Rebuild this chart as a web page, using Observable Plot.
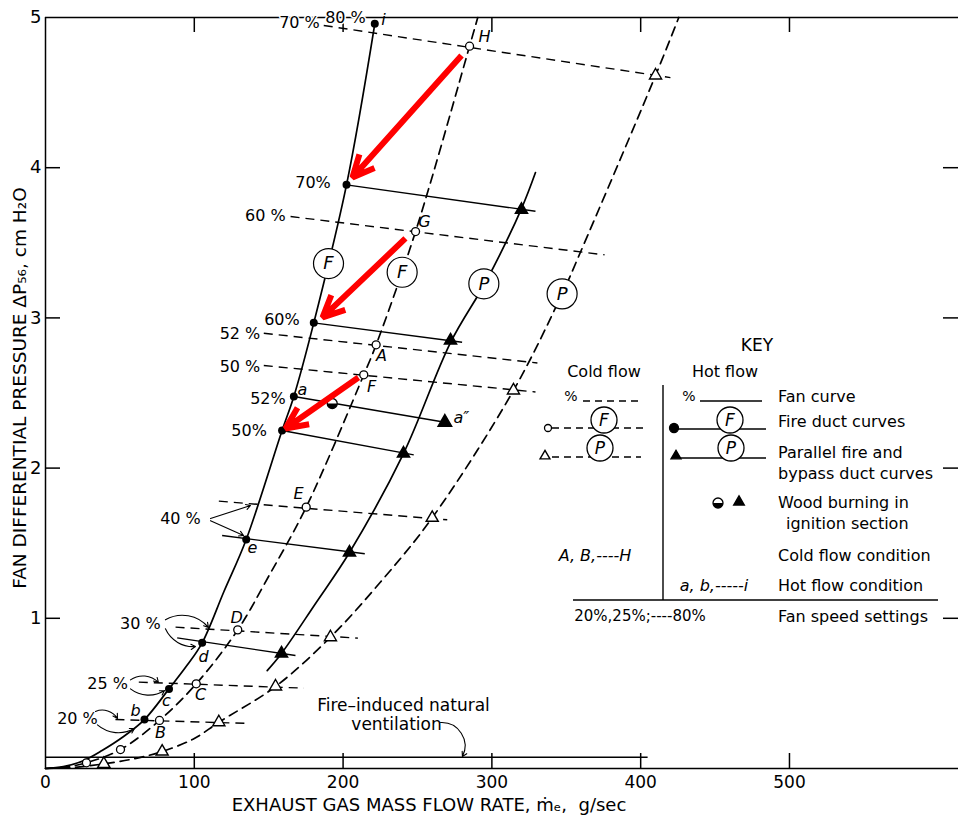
<!DOCTYPE html>
<html><head><meta charset="utf-8">
<script src="https://cdn.jsdelivr.net/npm/d3@7"></script>
<script src="https://cdn.jsdelivr.net/npm/@observablehq/plot@0.6"></script>
<style>
body{margin:0;background:#fff}
#chart{position:relative;width:958px;height:824px;overflow:hidden}
</style>
</head><body><div id="chart"></div>
<script>
// ---------------- DATA (x: exhaust gas mass flow, g/sec; y: fan differential pressure, cm H2O) ----------------
const xTicks = [0, 100, 200, 300, 400, 500];
const yTicks = [1, 2, 3, 4, 5];

// Fire duct curves
const hotFireDuctCurve = [[0,0],[12,0.012],[25,0.05],[38,0.12],[52,0.21],[66.5,0.326],[83,0.53],[95,0.685],[105.3,0.837],[120,1.18],[134.9,1.525],[159,2.25],[166.9,2.477],[180.3,2.967],[202.3,3.886],[221.3,4.958]];
const coldFireDuctCurve = [[0,0],[15,0.012],[27.5,0.038],[50.4,0.126],[76.6,0.32],[101.3,0.564],[129.2,0.923],[150,1.28],[175.2,1.74],[213.9,2.621],[222.2,2.821],[248.7,3.575],[285,4.809],[290.5,5]];
// Parallel fire and bypass duct curves
const hotParallelCurve = [[149,0.652],[158.6,0.766],[181.5,1.099],[204.3,1.438],[240.6,2.097],[272.2,2.836],[296.4,3.249],[319.9,3.728],[329.3,3.968]];
const coldParallelCurve = [[0,0],[20,0.008],[39.2,0.031],[60,0.066],[78.4,0.113],[100,0.2],[116.5,0.308],[154.6,0.546],[191.5,0.874],[225,1.24],[259.9,1.669],[314.5,2.517],[347.2,3.16],[359.5,3.437],[410,4.614],[425.6,5]];

// Measured points
const hotFirePoints = [[66.5,0.326],[83,0.53],[105.3,0.837],[134.9,1.525],[159,2.25],[166.9,2.477],[180.3,2.967],[202.3,3.886],[221.3,4.958]];
const coldFirePoints = [[27.5,0.038],[50.4,0.126],[76.6,0.32],[101.3,0.564],[129.2,0.923],[175.2,1.74],[213.9,2.621],[222.2,2.821],[248.7,3.575],[285,4.809]];
const hotParallelPoints = [[158.6,0.766],[204.3,1.438],[240.6,2.097],[272.2,2.85],[319.9,3.72]];
const coldParallelPoints = [[39.2,0.031],[78.4,0.113],[116.5,0.308],[154.6,0.546],[191.5,0.874],[259.9,1.669],[314.5,2.517],[410,4.614]];
const woodBurningCircle = [[192.7,2.43]];
const woodBurningTriangle = [[268.4,2.305]];

// Fan curves (speed setting, start, end)
const hotFanSpeeds = ["30%","40%","50%","52%","60%","70%"];
const hotFanStart = [[88.5,0.87],[118.7,1.551],[159,2.25],[166.9,2.477],[180.3,2.967],[202.3,3.886]];
const hotFanEnd = [[168,0.752],[214.6,1.43],[247.5,2.088],[268.4,2.305],[280,2.838],[329.3,3.71]];
const coldFanSpeeds = ["20%","25%","30%","40%","50%","52%","60%","70%"];
const coldFanStart = [[47,0.326],[62.7,0.575],[87.4,0.941],[116.5,1.78],[146.7,2.683],[146.7,2.898],[164.7,3.675],[187,4.947]];
const coldFanEnd = [[136.6,0.30],[173.6,0.535],[210,0.868],[270,1.656],[329.3,2.507],[330.6,2.70],[375.7,3.42],[420,4.6]];

// Fire-induced natural ventilation
const naturalVentilation = {y: 0.075, x1: 0, x2: 405};

// Circled curve identifiers
const curveTags = ["F","F","P","P"];
const curveTagPos = [[190.2,3.362],[239.7,3.304],[294.6,3.227],[347.2,3.16]];

// Text labels
const pctLabels = ["70 %","80 %","70%","60 %","60%","52 %","50 %","52%","50%","40 %","30 %","25 %","20 %"];
const pctLabelPos = [[170.7,4.967],[201.6,5.0],[179.8,3.90],[147.8,3.68],[158.9,2.99],[130.7,2.896],[130.7,2.676],[149.5,2.463],[136.8,2.25],[90.7,1.664],[63.8,0.965],[41.7,0.566],[21.5,0.333]];
const pointLetters = ["i","H","G","A","F","a","a″","E","e","D","d","C","c","b","B"];
const pointLetterPos = [[227.2,4.985],[295,4.87],[254.7,3.64],[225.8,2.75],[219.1,2.543],[172.7,2.52],[279.5,2.335],[170,1.83],[139.1,1.47],[128.4,1.005],[106.2,0.745],[104.2,0.49],[81.3,0.45],[60.5,0.385],[77.3,0.24]];
const ventLabels = ["Fire–induced natural","ventilation"];
const ventLabelPos = [[240.6,0.419],[235.9,0.293]];

// Thin annotation arrows [x1,y1,x2,y2]
const straightNoteArrows = [[110.9,1.664,137.8,1.751],[110.9,1.65,133.1,1.551]];
const upperNoteArrows = [[80.6,0.99,109.5,0.939],[57.1,0.59,75.9,0.573],[33.6,0.38,48.4,0.333]];
const lowerNoteArrows = [[80.6,0.93,100.8,0.812],[57.1,0.53,80,0.519],[34.9,0.29,59.8,0.266]];
const ventArrow = [[265.5,0.306,280.2,0.08]];
// Red highlight arrows [x1,y1,x2,y2]
const redArrows = [[279.6,4.747,206.3,3.935],[241.9,3.529,186.2,3.003],[210.3,2.603,161.3,2.264]];

// ---------------- CHART ----------------
const P = (a) => a.map(([x,y]) => ({x,y}));
const zipFan = (speeds, s, e) => speeds.map((sp,i) => ({speed: sp, x1: s[i][0], y1: s[i][1], x2: e[i][0], y2: e[i][1]}));
const zipLab = (t, p) => t.map((s,i) => ({text: s, x: p[i][0], y: p[i][1]}));
const arrowOpts = {x1: d => d[0], y1: d => d[1], x2: d => d[2], y2: d => d[3], stroke: "black", strokeWidth: 1.1, headLength: 7};

const halfDisk = {draw(ctx, size){ const r = Math.sqrt(size/Math.PI); ctx.moveTo(r,0); ctx.arc(0,0,r,0,Math.PI); ctx.closePath(); }};

const W = 958, H = 824, mL = 45, mR = 0, mT = 17, mB = 56;
const xMax = 613.6, yMax = 5;
const tickLenX = 15 * xMax / (W - mL - mR);   // 15 px expressed in x units
const tickLenY = 15 * yMax / (H - mT - mB);   // 15 px expressed in y units
const dash = "9,6";
const plot = Plot.plot({
  width: W, height: H,
  marginLeft: mL, marginRight: mR, marginTop: mT, marginBottom: mB,
  x: {domain: [0, xMax]},
  y: {domain: [0, yMax]},
  style: {fontFamily: "DejaVu Sans", fontSize: "16px", background: "white", color: "black", overflow: "visible"},
  marks: [
    Plot.ruleX([0], {stroke: "black", strokeWidth: 1.5}),
    Plot.ruleY([0, yMax], {stroke: "black", strokeWidth: 1.5}),
    // inward ticks
    Plot.ruleX(xTicks.slice(1), {x: d => d, y1: 0, y2: tickLenY, stroke: "black", strokeWidth: 1.5}),
    Plot.ruleX(xTicks.slice(1), {x: d => d, y1: yMax - tickLenY, y2: yMax, stroke: "black", strokeWidth: 1.5}),
    Plot.ruleY(yTicks.slice(0,4), {y: d => d, x1: 0, x2: tickLenX, stroke: "black", strokeWidth: 1.5}),
    Plot.ruleY(yTicks.slice(0,4), {y: d => d, x1: xMax - tickLenX, x2: xMax, stroke: "black", strokeWidth: 1.5}),
    Plot.axisX(xTicks, {anchor: "bottom", tickSize: 0, tickPadding: 7, label: null, fontSize: 17, tickFormat: "d"}),
    Plot.axisY(yTicks, {anchor: "left", tickSize: 0, tickPadding: 4, label: null, fontSize: 18, tickFormat: "d"}),
    Plot.text(["FAN DIFFERENTIAL PRESSURE ΔP₅₆, cm H₂O"], {frameAnchor: "left", textAnchor: "middle", rotate: -90, dx: -25, dy: -5, fontSize: 18.5}),
    Plot.text(["EXHAUST GAS MASS FLOW RATE, ṁₑ,  g/sec"], {frameAnchor: "bottom", textAnchor: "middle", dy: 42, dx: -73, fontSize: 18}),

    // fan curves
    Plot.link(zipFan(coldFanSpeeds, coldFanStart, coldFanEnd), {x1: "x1", y1: "y1", x2: "x2", y2: "y2", stroke: "black", strokeWidth: 1.4, strokeDasharray: dash}),
    Plot.link(zipFan(hotFanSpeeds, hotFanStart, hotFanEnd), {x1: "x1", y1: "y1", x2: "x2", y2: "y2", stroke: "black", strokeWidth: 1.4}),
    // duct curves
    Plot.line(P(coldFireDuctCurve), {x: "x", y: "y", curve: "catmull-rom", stroke: "black", strokeWidth: 1.7, strokeDasharray: dash}),
    Plot.line(P(coldParallelCurve), {x: "x", y: "y", curve: "catmull-rom", stroke: "black", strokeWidth: 1.7, strokeDasharray: dash}),
    Plot.line(P(hotFireDuctCurve), {x: "x", y: "y", curve: "catmull-rom", stroke: "black", strokeWidth: 1.7}),
    Plot.line(P(hotParallelCurve), {x: "x", y: "y", curve: "catmull-rom", stroke: "black", strokeWidth: 1.7}),
    // natural ventilation
    Plot.ruleY([naturalVentilation], {y: "y", x1: "x1", x2: "x2", stroke: "black", strokeWidth: 1.6}),

    // markers
    Plot.dot(P(hotFirePoints), {x: "x", y: "y", r: 4, fill: "black"}),
    Plot.dot(P(coldFirePoints), {x: "x", y: "y", r: 4, fill: "white", stroke: "black", strokeWidth: 1.3}),
    Plot.dot(P(hotParallelPoints), {x: "x", y: "y", r: 4.5, symbol: "triangle", fill: "black", stroke: "black"}),
    Plot.dot(P(coldParallelPoints), {x: "x", y: "y", r: 4.5, symbol: "triangle", fill: "white", stroke: "black", strokeWidth: 1.4}),
    Plot.dot(P(woodBurningCircle), {x: "x", y: "y", r: 5, fill: "white", stroke: "black", strokeWidth: 1.3}),
    Plot.dot(P(woodBurningCircle), {x: "x", y: "y", r: 5, symbol: halfDisk, fill: "black"}),
    Plot.dot(P(woodBurningTriangle), {x: "x", y: "y", r: 5, symbol: "triangle", fill: "black", stroke: "black"}),

    // circled identifiers
    Plot.dot(zipLab(curveTags, curveTagPos), {x: "x", y: "y", r: 15, fill: "white", stroke: "black", strokeWidth: 1.2}),
    Plot.text(zipLab(curveTags, curveTagPos), {x: "x", y: "y", text: "text", fontStyle: "italic", fontSize: 18}),

    // labels
    Plot.text(zipLab(pctLabels, pctLabelPos), {x: "x", y: "y", text: "text", fontSize: 16, stroke: "white", strokeWidth: 3, fill: "black"}),
    Plot.text(zipLab(pointLetters, pointLetterPos), {x: "x", y: "y", text: "text", fontSize: 16, fontStyle: "italic"}),
    Plot.text(zipLab(ventLabels, ventLabelPos), {x: "x", y: "y", text: "text", fontSize: 17}),

    // annotation arrows
    Plot.arrow(straightNoteArrows, {...arrowOpts}),
    Plot.arrow(upperNoteArrows, {...arrowOpts, bend: 40}),
    Plot.arrow(lowerNoteArrows, {...arrowOpts, bend: -35}),
    Plot.arrow(ventArrow, {...arrowOpts, bend: 60}),
    // red highlight arrows
    Plot.arrow(redArrows, {x1: d => d[0], y1: d => d[1], x2: d => d[2], y2: d => d[3], stroke: "#ff0000", strokeWidth: 6, headLength: 6, headAngle: 50, strokeLinejoin: "miter", strokeLinecap: "butt"})
  ]
});
document.getElementById("chart").appendChild(plot);

// ---------------- KEY (legend) ----------------
const svg = d3.select(plot);
const key = svg.append("g").attr("font-family", "DejaVu Sans").attr("font-size", 16).attr("fill", "black");
const txt = (x, y, s, anchor = "start", extra = {}) => {
  const t = key.append("text").attr("x", x).attr("y", y).attr("dy", "0.35em").attr("text-anchor", anchor).text(s);
  for (const k in extra) t.attr(k, extra[k]);
  return t;
};
const line = (x1, y1, x2, y2, dashed) => key.append("line").attr("x1", x1).attr("y1", y1).attr("x2", x2).attr("y2", y2)
  .attr("stroke", "black").attr("stroke-width", 1.4).attr("stroke-dasharray", dashed ? "7,5" : null);
const circ = (x, y, r, fill) => key.append("circle").attr("cx", x).attr("cy", y).attr("r", r).attr("fill", fill).attr("stroke", "black").attr("stroke-width", 1.3);
const tri = (x, y, size, fill) => key.append("path").attr("transform", `translate(${x},${y})`).attr("d", d3.symbol(d3.symbolTriangle2, size)()).attr("fill", fill).attr("stroke", "black").attr("stroke-width", 1.4);
const tag = (x, y, s) => { circ(x, y, 13, "white"); txt(x, y, s, "middle", {"font-style": "italic", "font-size": 17}); };

txt(757, 345, "KEY", "middle", {"font-size": 17});
txt(604, 371, "Cold flow", "middle");
txt(725, 371, "Hot flow", "middle");
line(663, 385, 663, 600, false);
line(573, 600, 938, 600, false);

txt(571, 396, "%", "middle", {"font-size": 14});
line(583, 401, 641, 401, true);
txt(689, 396, "%", "middle", {"font-size": 14});
line(700, 401, 762, 401, false);
txt(778, 396, "Fan curve");

line(552, 428, 648, 428, true); circ(548, 428, 3.5, "white"); tag(604, 420, "F");
line(676, 429, 766, 429, false); circ(674, 428, 4.5, "black"); tag(730, 420, "F");
txt(778, 421, "Fire duct curves");

line(552, 457, 641, 457, true); tri(545, 456, 70, "white"); tag(600, 448, "P");
line(680, 458, 766, 458, false); tri(676, 456, 70, "black"); tag(731, 448, "P");
txt(778, 452, "Parallel fire and");
txt(778, 473, "bypass duct curves");

circ(718, 503, 5, "white");
key.append("path").attr("transform", "translate(718,503)").attr("d", "M5,0A5,5 0 0 1 -5,0Z").attr("fill", "black");
tri(739, 502, 80, "black");
txt(778, 502, "Wood burning in");
txt(786, 523, "ignition section");

txt(595, 555, "A, B,----H", "middle", {"font-style": "italic"});
txt(778, 555, "Cold flow condition");
txt(714, 585, "a, b,-----i", "middle", {"font-style": "italic"});
txt(778, 585, "Hot flow condition");
txt(640, 616, "20%,25%;----80%", "middle", {"font-size": 15});
txt(778, 616, "Fan speed settings");
</script></body></html>
